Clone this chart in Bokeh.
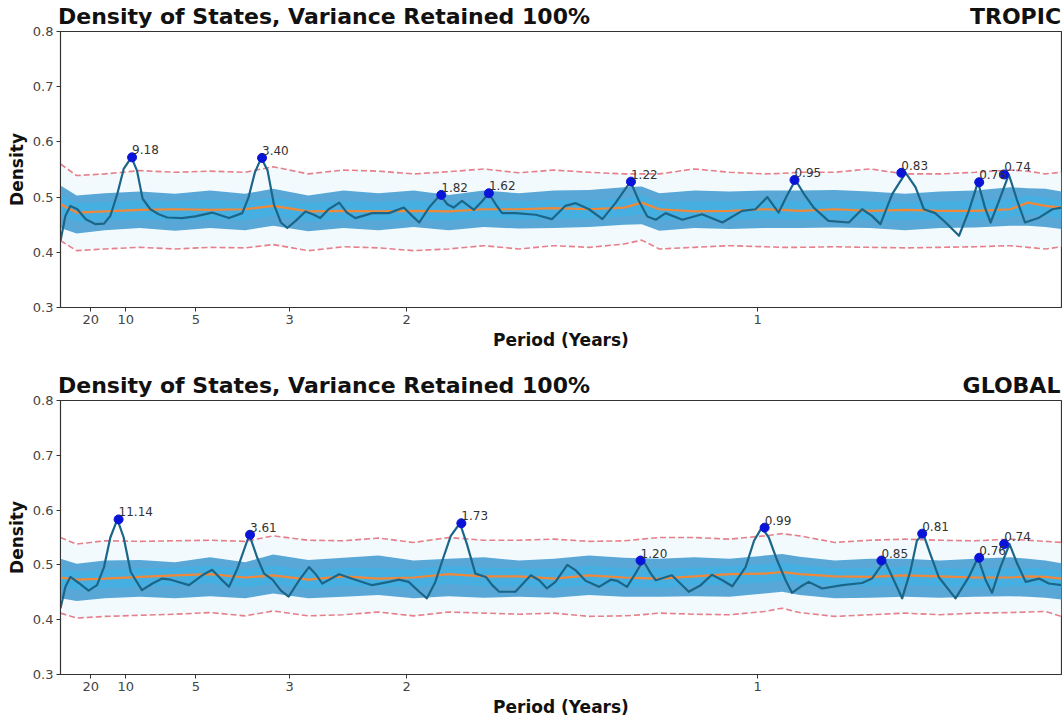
from bokeh.plotting import figure
from bokeh.layouts import column
from bokeh.models import Range1d, FixedTicker, ColumnDataSource, LabelSet, LinearAxis
from bokeh.core.properties import value
from bokeh.embed import file_html
from bokeh.resources import INLINE

# ---------------- data ----------------
period_ticks = [20, 10, 5, 3, 2, 1]
tick_labels = ["20", "10", "5", "3", "2", "1"]

# common frequency grid (cycles / year) for envelopes
env_f = [0.007, 0.03, 0.07, 0.12, 0.17, 0.22, 0.27, 0.31, 0.36, 0.41, 0.46, 0.51,
         0.56, 0.61, 0.66, 0.71, 0.76, 0.81, 0.835, 0.86, 0.91, 0.96, 1.01, 1.035,
         1.06, 1.11, 1.16, 1.21, 1.26, 1.31, 1.36, 1.385, 1.41, 1.433]

# ---- TROPIC ----
tr_red_up = [0.560, 0.539, 0.542, 0.548, 0.545, 0.547, 0.545, 0.555, 0.542, 0.549, 0.547, 0.542,
             0.546, 0.551, 0.544, 0.549, 0.545, 0.542, 0.542, 0.542, 0.551, 0.545, 0.542, 0.543,
             0.545, 0.545, 0.551, 0.542, 0.542, 0.545, 0.549, 0.547, 0.542, 0.545]
tr_red_lo = [0.421, 0.403, 0.406, 0.409, 0.406, 0.409, 0.408, 0.414, 0.403, 0.410, 0.408, 0.403,
             0.406, 0.412, 0.406, 0.412, 0.409, 0.415, 0.422, 0.406, 0.409, 0.412, 0.410, 0.409,
             0.409, 0.410, 0.409, 0.408, 0.409, 0.410, 0.412, 0.409, 0.406, 0.410]
tr_mean = [0.487, 0.472, 0.474, 0.477, 0.478, 0.477, 0.478, 0.484, 0.474, 0.475, 0.474, 0.475,
           0.474, 0.478, 0.478, 0.480, 0.478, 0.481, 0.490, 0.478, 0.474, 0.475, 0.478, 0.477,
           0.475, 0.478, 0.475, 0.477, 0.475, 0.475, 0.478, 0.490, 0.484, 0.481]
tr_band_up = [0.521, 0.503, 0.507, 0.510, 0.506, 0.512, 0.506, 0.515, 0.503, 0.512, 0.507, 0.512,
              0.504, 0.512, 0.507, 0.512, 0.513, 0.518, 0.519, 0.507, 0.512, 0.510, 0.512, 0.512,
              0.512, 0.513, 0.510, 0.506, 0.510, 0.512, 0.518, 0.516, 0.515, 0.510]
tr_band_lo = [0.444, 0.434, 0.440, 0.444, 0.439, 0.444, 0.440, 0.448, 0.438, 0.444, 0.440, 0.446,
              0.440, 0.446, 0.443, 0.444, 0.446, 0.450, 0.451, 0.439, 0.444, 0.442, 0.444, 0.444,
              0.444, 0.445, 0.444, 0.440, 0.444, 0.445, 0.448, 0.448, 0.446, 0.442]
tr_inner_up = [0.505, 0.489, 0.491, 0.494, 0.493, 0.495, 0.492, 0.499, 0.490, 0.493, 0.491, 0.494,
               0.490, 0.495, 0.492, 0.495, 0.494, 0.497, 0.503, 0.492, 0.492, 0.493, 0.494, 0.494,
               0.493, 0.494, 0.493, 0.491, 0.493, 0.494, 0.497, 0.503, 0.499, 0.494]
tr_inner_lo = [0.470, 0.455, 0.457, 0.460, 0.458, 0.460, 0.458, 0.466, 0.456, 0.460, 0.457, 0.460,
               0.457, 0.462, 0.459, 0.461, 0.461, 0.465, 0.470, 0.458, 0.459, 0.458, 0.461, 0.460,
               0.459, 0.461, 0.459, 0.458, 0.459, 0.460, 0.463, 0.469, 0.466, 0.461]
tr_sig_f = [0.007, 0.014, 0.021, 0.031, 0.043, 0.057, 0.069, 0.078, 0.088, 0.097, 0.108, 0.116,
            0.124, 0.135, 0.147, 0.159, 0.180, 0.199, 0.223, 0.247, 0.266, 0.275, 0.284, 0.293,
            0.302, 0.311, 0.321, 0.330, 0.342, 0.356, 0.368, 0.377, 0.389, 0.404, 0.415, 0.427,
            0.451, 0.475, 0.496, 0.508, 0.518, 0.532, 0.548, 0.558, 0.567, 0.579, 0.596, 0.608,
            0.617, 0.627, 0.636, 0.655, 0.684, 0.707, 0.726, 0.741, 0.760, 0.779, 0.798, 0.819,
            0.831, 0.843, 0.855, 0.869, 0.893, 0.921, 0.950, 0.978, 0.997, 1.014, 1.030, 1.042,
            1.054, 1.066, 1.080, 1.101, 1.130, 1.149, 1.163, 1.175, 1.192, 1.211, 1.225, 1.237,
            1.253, 1.268, 1.287, 1.301, 1.314, 1.324, 1.332, 1.344, 1.358, 1.370, 1.381, 1.400,
            1.420, 1.433]
tr_sig_d = [0.421, 0.466, 0.484, 0.478, 0.460, 0.451, 0.452, 0.466, 0.506, 0.551, 0.572, 0.548,
            0.497, 0.478, 0.469, 0.463, 0.462, 0.465, 0.472, 0.462, 0.471, 0.500, 0.545, 0.571,
            0.548, 0.487, 0.454, 0.444, 0.457, 0.474, 0.468, 0.462, 0.478, 0.490, 0.472, 0.462,
            0.471, 0.471, 0.481, 0.466, 0.454, 0.481, 0.504, 0.487, 0.481, 0.493, 0.477, 0.493,
            0.507, 0.487, 0.471, 0.471, 0.468, 0.460, 0.484, 0.489, 0.478, 0.460, 0.490, 0.528,
            0.493, 0.465, 0.459, 0.471, 0.459, 0.469, 0.454, 0.475, 0.478, 0.500, 0.472, 0.503,
            0.531, 0.506, 0.481, 0.457, 0.454, 0.478, 0.466, 0.451, 0.506, 0.544, 0.518, 0.478,
            0.471, 0.454, 0.430, 0.475, 0.527, 0.481, 0.454, 0.493, 0.541, 0.493, 0.454, 0.462,
            0.478, 0.481]
tr_peak_period = [9.18, 3.40, 1.82, 1.62, 1.22, 0.95, 0.83, 0.76, 0.74]
tr_peak_label = ["9.18", "3.40", "1.82", "1.62", "1.22", "0.95", "0.83", "0.76", "0.74"]
tr_peak_d = [0.572, 0.571, 0.504, 0.507, 0.528, 0.531, 0.544, 0.527, 0.541]

# ---- GLOBAL ----
gl_red_up = [0.550, 0.538, 0.544, 0.543, 0.544, 0.545, 0.543, 0.553, 0.545, 0.544, 0.549, 0.541,
             0.550, 0.545, 0.545, 0.547, 0.543, 0.544, 0.547, 0.550, 0.550, 0.547, 0.553, 0.557,
             0.553, 0.541, 0.545, 0.547, 0.545, 0.544, 0.547, 0.545, 0.543, 0.541]
gl_red_lo = [0.412, 0.403, 0.406, 0.408, 0.410, 0.413, 0.407, 0.416, 0.407, 0.409, 0.414, 0.407,
             0.414, 0.412, 0.410, 0.412, 0.406, 0.407, 0.409, 0.412, 0.410, 0.409, 0.415, 0.421,
             0.413, 0.406, 0.409, 0.412, 0.409, 0.412, 0.413, 0.414, 0.415, 0.406]
gl_mean = [0.477, 0.473, 0.475, 0.478, 0.481, 0.483, 0.477, 0.481, 0.473, 0.479, 0.475, 0.477,
           0.483, 0.479, 0.479, 0.475, 0.481, 0.477, 0.476, 0.475, 0.479, 0.483, 0.484, 0.487,
           0.483, 0.479, 0.478, 0.481, 0.479, 0.477, 0.477, 0.479, 0.478, 0.475]
gl_band_up = [0.511, 0.502, 0.508, 0.509, 0.505, 0.514, 0.505, 0.519, 0.509, 0.513, 0.517, 0.508,
              0.511, 0.514, 0.508, 0.511, 0.517, 0.513, 0.512, 0.511, 0.514, 0.511, 0.517, 0.520,
              0.515, 0.508, 0.511, 0.511, 0.508, 0.511, 0.514, 0.511, 0.508, 0.503]
gl_band_lo = [0.439, 0.434, 0.439, 0.442, 0.439, 0.443, 0.439, 0.448, 0.439, 0.442, 0.445, 0.439,
              0.443, 0.440, 0.442, 0.440, 0.445, 0.442, 0.442, 0.442, 0.443, 0.442, 0.448, 0.451,
              0.445, 0.439, 0.440, 0.442, 0.440, 0.442, 0.443, 0.442, 0.440, 0.437]
gl_inner_up = [0.494, 0.488, 0.491, 0.494, 0.495, 0.499, 0.492, 0.499, 0.490, 0.495, 0.494, 0.492,
               0.498, 0.495, 0.494, 0.493, 0.498, 0.494, 0.493, 0.493, 0.495, 0.498, 0.501, 0.505,
               0.500, 0.494, 0.494, 0.497, 0.494, 0.493, 0.494, 0.495, 0.493, 0.490]
gl_inner_lo = [0.459, 0.455, 0.457, 0.460, 0.463, 0.466, 0.459, 0.465, 0.456, 0.462, 0.460, 0.459,
               0.465, 0.461, 0.461, 0.458, 0.463, 0.460, 0.459, 0.458, 0.462, 0.465, 0.467, 0.471,
               0.466, 0.462, 0.461, 0.463, 0.461, 0.459, 0.460, 0.462, 0.461, 0.457]
gl_sig_f = [0.007, 0.014, 0.021, 0.033, 0.047, 0.059, 0.069, 0.078, 0.088, 0.097, 0.107, 0.123,
            0.138, 0.152, 0.164, 0.190, 0.209, 0.223, 0.235, 0.247, 0.259, 0.276, 0.287, 0.297,
            0.309, 0.321, 0.332, 0.347, 0.361, 0.370, 0.380, 0.404, 0.427, 0.451, 0.475, 0.489,
            0.503, 0.518, 0.529, 0.541, 0.551, 0.563, 0.576, 0.586, 0.598, 0.613, 0.622, 0.632,
            0.655, 0.677, 0.689, 0.700, 0.712, 0.729, 0.741, 0.755, 0.774, 0.791, 0.800, 0.814,
            0.826, 0.837, 0.848, 0.855, 0.878, 0.902, 0.919, 0.935, 0.950, 0.964, 0.983, 0.995,
            1.006, 1.016, 1.028, 1.040, 1.049, 1.061, 1.073, 1.092, 1.121, 1.149, 1.163, 1.181,
            1.192, 1.206, 1.218, 1.227, 1.236, 1.246, 1.258, 1.282, 1.301, 1.314, 1.325, 1.334,
            1.346, 1.359, 1.370, 1.382, 1.401, 1.415, 1.433]
gl_sig_d = [0.421, 0.460, 0.478, 0.467, 0.453, 0.463, 0.496, 0.550, 0.583, 0.550, 0.487, 0.454,
            0.466, 0.475, 0.473, 0.463, 0.481, 0.491, 0.475, 0.460, 0.493, 0.555, 0.514, 0.484,
            0.473, 0.453, 0.442, 0.472, 0.496, 0.484, 0.466, 0.483, 0.473, 0.463, 0.469, 0.473,
            0.469, 0.451, 0.439, 0.469, 0.508, 0.553, 0.576, 0.538, 0.484, 0.478, 0.463, 0.451,
            0.451, 0.481, 0.472, 0.457, 0.469, 0.500, 0.490, 0.471, 0.460, 0.473, 0.471, 0.460,
            0.484, 0.508, 0.484, 0.472, 0.481, 0.451, 0.463, 0.482, 0.472, 0.461, 0.496, 0.544,
            0.568, 0.550, 0.508, 0.472, 0.449, 0.460, 0.469, 0.457, 0.463, 0.467, 0.475, 0.508,
            0.478, 0.439, 0.490, 0.544, 0.557, 0.520, 0.478, 0.439, 0.478, 0.513, 0.472, 0.449,
            0.496, 0.538, 0.502, 0.469, 0.475, 0.466, 0.463]
gl_peak_period = [11.14, 3.61, 1.73, 1.20, 0.99, 0.85, 0.81, 0.76, 0.74]
gl_peak_label = ["11.14", "3.61", "1.73", "1.20", "0.99", "0.85", "0.81", "0.76", "0.74"]
gl_peak_d = [0.583, 0.555, 0.576, 0.508, 0.568, 0.508, 0.557, 0.513, 0.538]

TITLE = "Density of States, Variance Retained 100%"
FONT = "DejaVu Sans"
FRAME_W = 1001          # frame width in pixels
TITLE_W = 531           # approximate rendered width of the title text


def make_panel(region, tag_w, red_up, red_lo, mean, band_up, band_lo, inner_up, inner_lo,
               sig_f, sig_d, peak_period, peak_label, peak_d, height, top, bottom):
    p = figure(width=1062, height=height, x_range=Range1d(0.007, 1.433),
               y_range=Range1d(0.3, 0.8), output_backend="svg", toolbar_location=None,
               min_border_left=60, min_border_right=1, min_border_top=top,
               min_border_bottom=bottom)
    p.xgrid.visible = False
    p.ygrid.visible = False
    p.outline_line_color = "#333333"
    p.outline_line_width = 1.2
    p.background_fill_color = "white"
    p.border_fill_color = "white"

    # header row (title left, region tag right) as labels of a bare top axis
    p.extra_x_ranges = {"hdr": Range1d(0, FRAME_W)}
    t_pos = [TITLE_W / 2 - 2, FRAME_W - tag_w / 2 - 3]
    hdr = LinearAxis(x_range_name="hdr", ticker=FixedTicker(ticks=t_pos),
                     major_label_overrides={t_pos[0]: TITLE, t_pos[1]: region})
    hdr.axis_line_color = None
    hdr.major_tick_line_color = None
    hdr.minor_tick_line_color = None
    hdr.major_tick_out = 0
    hdr.major_tick_in = 0
    hdr.minor_tick_out = 0
    hdr.minor_tick_in = 0
    hdr.major_label_standoff = 3
    hdr.major_label_text_font = FONT
    hdr.major_label_text_font_style = "bold"
    hdr.major_label_text_font_size = "22px"
    hdr.major_label_text_color = "#111111"
    p.add_layout(hdr, "above")

    # envelopes
    p.varea(x=env_f, y1=red_lo, y2=red_up, fill_color="#eef8fc", fill_alpha=0.7)
    p.varea(x=env_f, y1=band_lo, y2=band_up, fill_color="#58a7d6", fill_alpha=1.0)
    p.varea(x=env_f, y1=inner_lo, y2=inner_up, fill_color="#42b1e5", fill_alpha=0.8)
    p.line(env_f, red_up, line_color="#e0606e", line_dash="6 3", line_width=1.6, line_alpha=0.8)
    p.line(env_f, red_lo, line_color="#e0606e", line_dash="6 3", line_width=1.6, line_alpha=0.8)
    p.line(env_f, mean, line_color="#f0883a", line_width=2.2)

    # signal
    p.line(sig_f, sig_d, line_color="#1b6688", line_width=2.2, line_join="round")

    # peaks
    pf = [1.0 / v for v in peak_period]
    src = ColumnDataSource(dict(x=pf, y=peak_d, t=peak_label))
    p.scatter("x", "y", source=src, size=9, fill_color="#0a14d8", line_color="#0a14d8")
    p.add_layout(LabelSet(x="x", y="y", text="t", source=src, x_offset=0, y_offset=3,
                          text_font_size="12px", text_color="#333333",
                          text_font=value(FONT), text_baseline="bottom"))

    # axes
    ticks = [1.0 / v for v in period_ticks]
    xax = p.below[0]
    xax.ticker = FixedTicker(ticks=ticks)
    xax.major_label_overrides = {t: s for t, s in zip(ticks, tick_labels)}
    xax.axis_label = "Period (Years)"
    yax = p.left[0]
    yax.ticker = FixedTicker(ticks=[0.3, 0.4, 0.5, 0.6, 0.7, 0.8])
    yax.axis_label = "Density"
    for ax in (xax, yax):
        ax.axis_label_text_font = FONT
        ax.axis_label_text_font_style = "bold"
        ax.axis_label_text_font_size = "17px"
        ax.axis_label_text_color = "#111111"
        ax.major_label_text_font = FONT
        ax.major_label_text_font_size = "13px"
        ax.major_label_text_color = "#444444"
        ax.major_tick_in = 0
        ax.major_tick_out = 4
        ax.minor_tick_out = 0
        ax.minor_tick_in = 0
        ax.axis_line_color = "#333333"
        ax.major_tick_line_color = "#333333"
        ax.major_label_standoff = 3
        ax.axis_label_standoff = 3
    yax.major_label_orientation = "horizontal"
    return p


p1 = make_panel("TROPIC", 86, tr_red_up, tr_red_lo, tr_mean, tr_band_up, tr_band_lo,
                tr_inner_up, tr_inner_lo, tr_sig_f, tr_sig_d, tr_peak_period,
                tr_peak_label, tr_peak_d, 360, 31, 53)
p2 = make_panel("GLOBAL", 94, gl_red_up, gl_red_lo, gl_mean, gl_band_up, gl_band_lo,
                gl_inner_up, gl_inner_lo, gl_sig_f, gl_sig_d, gl_peak_period,
                gl_peak_label, gl_peak_d, 359, 40, 42)

layout = column(p1, p2, spacing=0)
open("out.html", "w").write(file_html(layout, INLINE))
